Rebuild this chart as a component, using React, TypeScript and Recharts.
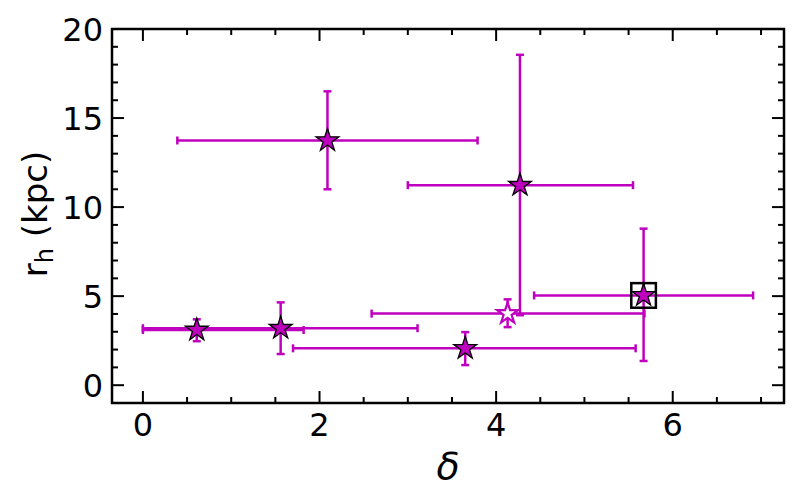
import { ErrorBar, ReferenceArea, Scatter, ScatterChart, XAxis, YAxis } from 'recharts'

// filled stars
const DELTA = [0.61, 1.56, 3.65, 4.27, 2.09, 5.67]
const DELTA_LO = [0.61, 1.56, 1.95, 1.27, 1.7, 1.24]
const DELTA_HI = [1.21, 1.55, 1.93, 1.28, 1.7, 1.24]
const RH = [3.1, 3.2, 2.07, 11.23, 13.74, 5.04]
const RH_LO = [0.63, 1.45, 0.94, 7.3, 2.74, 3.68]
const RH_HI = [0.6, 1.45, 0.91, 7.32, 2.76, 3.75]
const BOXED = [false, false, false, false, false, true]

// open star
const OPEN_DELTA = [4.13]
const OPEN_DELTA_LO = [1.54]
const OPEN_DELTA_HI = [1.55]
const OPEN_RH = [4.02]
const OPEN_RH_LO = [0.76]
const OPEN_RH_HI = [0.8]

const X_DOMAIN = [-0.35, 7.26]
const Y_DOMAIN = [-1, 20]
const X_TICKS = [0, 0.5, 1, 1.5, 2, 2.5, 3, 3.5, 4, 4.5, 5, 5.5, 6, 6.5, 7]
const X_LABELS = [0, 2, 4, 6]
const Y_TICKS = [0, 1, 2, 3, 4, 5, 6, 7, 8, 9, 10, 11, 12, 13, 14, 15, 16, 17, 18, 19, 20]
const Y_LABELS = [0, 5, 10, 15, 20]

const MAGENTA = '#bf00bf'
const FONT = 'DejaVu Sans'
const TOP = 29
const BOTTOM = 403
const LEFT = 112
const RIGHT = 784

const points = DELTA.map((d, i) => ({
  x: d,
  y: RH[i],
  ex: [DELTA_LO[i], DELTA_HI[i]],
  ey: [RH_LO[i], RH_HI[i]],
}))
const openPoints = OPEN_DELTA.map((d, i) => ({
  x: d,
  y: OPEN_RH[i],
  ex: [OPEN_DELTA_LO[i], OPEN_DELTA_HI[i]],
  ey: [OPEN_RH_LO[i], OPEN_RH_HI[i]],
}))
const boxed = points.filter((_, i) => BOXED[i])

function starPoints(cx: number, cy: number, r: number) {
  const pts: string[] = []
  for (let i = 0; i < 10; i++) {
    const rad = i % 2 === 0 ? r : r * 0.382
    const a = -Math.PI / 2 + (i * Math.PI) / 5
    pts.push(`${cx + rad * Math.cos(a)},${cy + rad * Math.sin(a)}`)
  }
  return pts.join(' ')
}

const FilledStar = ({ cx, cy }: any) => (
  <polygon points={starPoints(cx, cy, 12)} fill={MAGENTA} stroke="#000" strokeWidth={1.3} />
)

const OpenStar = ({ cx, cy }: any) => (
  <polygon points={starPoints(cx, cy, 11)} fill="#fff" stroke={MAGENTA} strokeWidth={2.2} />
)

const Box = ({ cx, cy }: any) => (
  <rect x={cx - 12.3} y={cy - 12.3} width={24.6} height={24.6} fill="none" stroke="#000" strokeWidth={2.5} />
)

function XTick({ x, payload }: any) {
  const v = payload.value
  const major = X_LABELS.includes(v)
  const len = major ? 12 : 6
  return (
    <g>
      <line x1={x} x2={x} y1={BOTTOM} y2={BOTTOM - len} stroke="#000" strokeWidth={2} />
      <line x1={x} x2={x} y1={TOP} y2={TOP + len} stroke="#000" strokeWidth={2} />
      {major && (
        <text x={x} y={436} textAnchor="middle" fontSize={32} fontFamily={FONT} fill="#000">
          {v}
        </text>
      )}
    </g>
  )
}

function YTick({ y, payload }: any) {
  const v = payload.value
  const major = Y_LABELS.includes(v)
  const len = major ? 12 : 6
  return (
    <g>
      <line x1={LEFT} x2={LEFT + len} y1={y} y2={y} stroke="#000" strokeWidth={2} />
      <line x1={RIGHT} x2={RIGHT - len} y1={y} y2={y} stroke="#000" strokeWidth={2} />
      {major && (
        <text x={103} y={y + 11.5} textAnchor="end" fontSize={32} fontFamily={FONT} fill="#000">
          {v}
        </text>
      )}
    </g>
  )
}

const XLabel = () => (
  <text x={448} y={479} textAnchor="middle" fontSize={38} fontStyle="italic" fontFamily={FONT} fill="#000">
    δ
  </text>
)

const YLabel = () => (
  <text
    x={47}
    y={214}
    transform="rotate(-90 47 214)"
    textAnchor="middle"
    fontSize={34}
    fontFamily={FONT}
    fill="#000"
  >
    r
    <tspan fontSize={24} dy={6}>
      h
    </tspan>
    <tspan dy={-6}> (kpc)</tspan>
  </text>
)

export default function App() {
  return (
    <div style={{ position: 'absolute', left: 0, top: 0, width: 800, height: 500, background: '#fff' }}>
      <ScatterChart width={800} height={500} margin={{ top: TOP, right: 800 - RIGHT, bottom: 0, left: 12 }}>
        <XAxis
          type="number"
          dataKey="x"
          domain={X_DOMAIN}
          allowDataOverflow
          ticks={X_TICKS}
          interval={0}
          tick={<XTick />}
          tickLine={false}
          axisLine={false}
          height={500 - BOTTOM}
          label={<XLabel />}
        />
        <YAxis
          type="number"
          dataKey="y"
          domain={Y_DOMAIN}
          allowDataOverflow
          ticks={Y_TICKS}
          interval={0}
          tick={<YTick />}
          tickLine={false}
          axisLine={false}
          width={LEFT - 12}
          label={<YLabel />}
        />
        <Scatter data={points} shape={<FilledStar />} isAnimationActive={false}>
          <ErrorBar dataKey="ex" direction="x" width={4} stroke={MAGENTA} strokeWidth={2.5} />
          <ErrorBar dataKey="ey" direction="y" width={4} stroke={MAGENTA} strokeWidth={2.5} />
        </Scatter>
        <Scatter data={openPoints} shape={<OpenStar />} isAnimationActive={false}>
          <ErrorBar dataKey="ex" direction="x" width={4} stroke={MAGENTA} strokeWidth={2.5} />
          <ErrorBar dataKey="ey" direction="y" width={4} stroke={MAGENTA} strokeWidth={2.5} />
        </Scatter>
        <Scatter data={boxed} shape={<Box />} isAnimationActive={false} />
        <ReferenceArea
          x1={X_DOMAIN[0]}
          x2={X_DOMAIN[1]}
          y1={Y_DOMAIN[0]}
          y2={Y_DOMAIN[1]}
          fill="none"
          stroke="#000"
          strokeWidth={2.5}
          fillOpacity={0}
        />
      </ScatterChart>
    </div>
  )
}
